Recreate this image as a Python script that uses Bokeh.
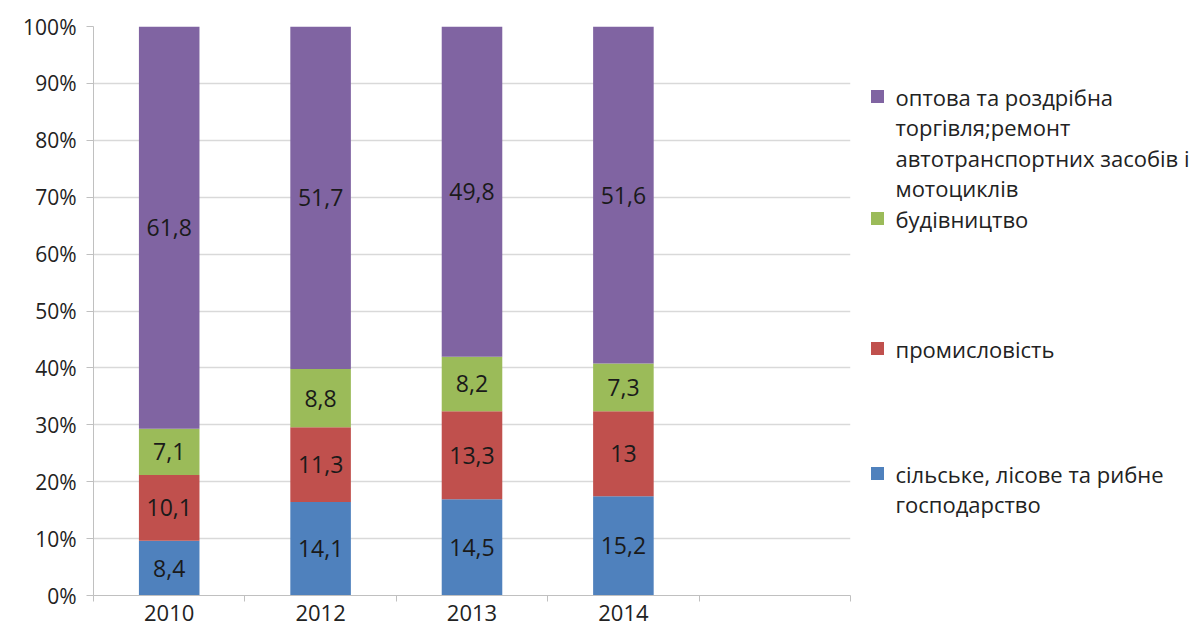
import numpy as np
from bokeh.plotting import figure
from bokeh.models import ColumnDataSource, FixedTicker, NumeralTickFormatter, Range1d
from bokeh.layouts import row
from bokeh.core.properties import value
from bokeh.embed import file_html
from bokeh.resources import INLINE

# ---- data ----
years = ["2010", "2012", "2013", "2014"]
agri = [8.4, 14.1, 14.5, 15.2]
industry = [10.1, 11.3, 13.3, 13.0]
construction = [7.1, 8.8, 8.2, 7.3]
trade = [61.8, 51.7, 49.8, 51.6]
series_labels = [
    "сільське, лісове та рибне\nгосподарство",
    "промисловість",
    "будівництво",
    "оптова та роздрібна\nторгівля;ремонт\nавтотранспортних засобів і\nмотоциклів",
]
colors = ["#4F81BD", "#C0504D", "#9BBB59", "#8064A2"]
y_ticks = [0, 0.1, 0.2, 0.3, 0.4, 0.5, 0.6, 0.7, 0.8, 0.9, 1.0]
n_slots = 5  # axis has one empty category slot after 2014

FONT = "Open Sans"
TXT = "#222222"

series = [agri, industry, construction, trade]
keys = ["agri", "industry", "construction", "trade"]
vals = np.array(series, dtype=float)
totals = vals.sum(axis=0)
shares = vals / totals

xs = np.arange(len(years)) + 0.5
data = {"x": xs}
for k, s in zip(keys, shares):
    data[k] = s
source = ColumnDataSource(data)

H = 635
TOP = 26
BOTTOM = 595
p = figure(width=860, height=H, x_range=Range1d(0, n_slots), y_range=Range1d(0, 1),
           output_backend="svg", toolbar_location=None,
           min_border_left=93, min_border_right=10, min_border_top=TOP,
           min_border_bottom=H - BOTTOM)
p.outline_line_color = None
p.vbar_stack(keys, x="x", width=0.4, color=colors, line_color=None, source=source)

# segment labels
lx, ly, lt = [], [], []
cum = np.zeros(len(years))
for s, v in zip(shares, vals):
    for i in range(len(years)):
        lx.append(xs[i])
        ly.append(cum[i] + s[i] / 2)
        lt.append(f"{v[i]:g}".replace(".", ","))
    cum = cum + s
p.text(x=lx, y=ly, text=lt, text_align="center", text_baseline="middle",
       text_font=value(FONT), text_font_size="23px", text_color="#1a1a1a")

# axes
p.xgrid.visible = False
p.ygrid.ticker = FixedTicker(ticks=y_ticks)
p.ygrid.grid_line_color = "#d9d9d9"
p.ygrid.grid_line_width = 1.5

p.yaxis.ticker = FixedTicker(ticks=y_ticks)
p.yaxis.formatter = NumeralTickFormatter(format="0%")
p.yaxis.axis_line_color = "#c0c0c0"
p.yaxis.major_tick_line_color = "#c0c0c0"
p.yaxis.major_tick_out = 7
p.yaxis.major_tick_in = 0
p.yaxis.minor_tick_line_color = None
p.yaxis.major_label_standoff = 10
p.yaxis.major_label_text_font = FONT
p.yaxis.major_label_text_font_size = "21px"
p.yaxis.major_label_text_color = TXT

p.xaxis.ticker = FixedTicker(ticks=list(xs), minor_ticks=list(range(n_slots + 1)))
p.xaxis.major_label_overrides = {float(x): y for x, y in zip(xs, years)}
p.xaxis.axis_line_color = "#c0c0c0"
p.xaxis.major_tick_line_color = None
p.xaxis.minor_tick_line_color = "#c0c0c0"
p.xaxis.minor_tick_out = 6
p.xaxis.minor_tick_in = 0
p.xaxis.major_label_standoff = 3
p.xaxis.major_label_text_font = FONT
p.xaxis.major_label_text_font_size = "22px"
p.xaxis.major_label_text_color = TXT

# legend panel (its frame is aligned with the main frame by the row layout,
# so its y range is expressed in page pixels between TOP and BOTTOM)
lw = 340
lg = figure(width=lw, height=H, x_range=Range1d(0, lw), y_range=Range1d(BOTTOM, TOP),
            output_backend="svg", toolbar_location=None, min_border=0)
lg.outline_line_color = None
lg.axis.visible = False
lg.grid.visible = False

entry_top = [473, 348, 218, 96]  # first-line y (page px) for each series, legend layout
line_h = 30.5
sq_x, sq_y, sq_c = [], [], []
tx, ty, tt = [], [], []
for lab, col, top in zip(series_labels, colors, entry_top):
    sq_x.append(17)
    sq_y.append(top)
    sq_c.append(col)
    for j, line in enumerate(lab.split("\n")):
        tx.append(35)
        ty.append(top + j * line_h)
        tt.append(line)
lg.scatter(x=sq_x, y=sq_y, marker="square", size=13, color=sq_c, line_color=None)
lg.text(x=tx, y=ty, text=tt, text_align="left", text_baseline="middle",
        text_font=value(FONT), text_font_size="22px", text_color=TXT)

layout = row(p, lg)
open("out.html", "w").write(file_html(layout, INLINE))
